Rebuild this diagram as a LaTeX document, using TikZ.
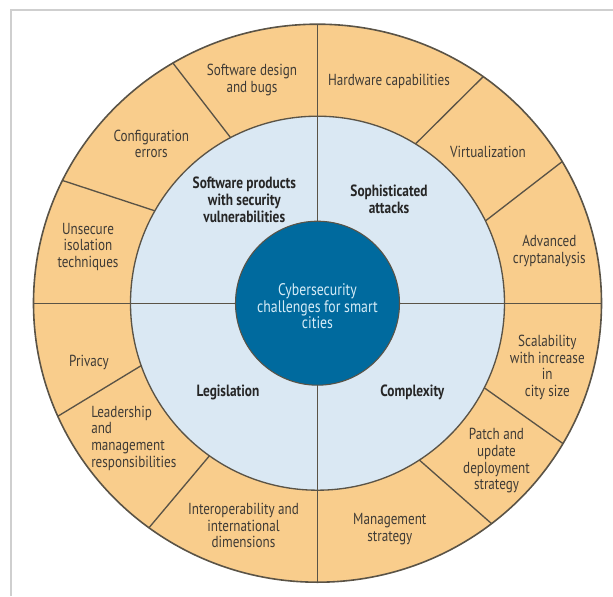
\documentclass[tikz,border=0pt]{standalone}
\usepackage{fontspec}
\setmainfont[FakeStretch=0.82]{PT Sans}
\usepackage{tikz}

\definecolor{ringcol}{HTML}{F9CD8C}
\definecolor{midcol}{HTML}{DAE8F3}
\definecolor{corecol}{HTML}{006A9E}
\definecolor{edgecol}{HTML}{5A5346}
\definecolor{txtcol}{HTML}{3F3B36}
\definecolor{coretxt}{HTML}{D6ECF7}
\definecolor{framecol}{HTML}{CFCFCF}

\begin{document}
\begin{tikzpicture}[x=0.75pt,y=0.75pt,
    lbl/.style={align=center,text=txtcol,inner sep=0pt,
      font=\fontsize{12}{12.5}\selectfont},
    midlbl/.style={lbl,text=black!85,font=\fontsize{12.2}{12.8}\selectfont\bfseries},
    sep/.style={draw=edgecol,line width=1pt}]

  % Frame
  \useasboundingbox (-317.5,-292.8) rectangle (295.5,303.2);
  \draw[framecol,line width=1.2pt] (-306.5,-292.8) |- (295.5,293.2);

  % Outer ring
  \coordinate (c) at (0,0);
  \filldraw[fill=ringcol,draw=edgecol,line width=1.2pt] (c) ellipse [x radius=284,y radius=279];
  \foreach \a/\b in {117.7/120.6,150.4/153.9,58.4/54.3,26.1/30.5,
                     199.5/203.9,234.7/233.6,303/307.8,333.1/329.8}
    \draw[sep] (\a:187) -- (\b:284 and 279);

  % Middle ring and quadrants
  \filldraw[fill=midcol,draw=edgecol,line width=1pt] (c) circle [radius=187];
  \draw[sep] (0,-279) -- (0,279);
  \draw[sep] (-284,0) -- (284,0);

  % Core
  \filldraw[fill=corecol,draw=edgecol,line width=0.8pt] (c) circle [radius=82];
  \node[lbl,text=coretxt,font=\fontsize{12.6}{12.6}\selectfont] (core) at (0,-3)
    {Cybersecurity\\challenges for smart\\cities};

  % Middle labels
  \node[midlbl] (swprod) at (-73.2,103.7) {Software products\\with security\\vulnerabilities};
  \node[midlbl] (attacks) at (71.5,103.9) {Sophisticated\\attacks};
  \node[midlbl] (legis) at (-89.5,-88.8) {Legislation};
  \node[midlbl] (complex) at (94.9,-88.8) {Complexity};

  % Outer labels
  \node[lbl] (swdesign) at (-65.5,223.2) {Software design\\and bugs};
  \node[lbl] (hardware) at (71.5,222.2) {Hardware capabilities};
  \node[lbl] (config) at (-166.2,159.2) {Configuration\\errors};
  \node[lbl] (virtual) at (170.5,151.5) {Virtualization};
  \node[lbl] (unsecure) at (-229.5,56.5) {Unsecure\\isolation\\techniques};
  \node[lbl] (crypto) at (231.8,52.5) {Advanced\\cryptanalysis};
  \node[lbl] (privacy) at (-228.5,-59.5) {Privacy};
  \node[lbl,align=left,anchor=west] (leader) at (-226.5,-134.8) {Leadership\\and\\management\\responsibilities};
  \node[lbl] (interop) at (-74,-222.4) {Interoperability and\\international\\dimensions};
  \node[lbl] (mgmt) at (72.3,-226.1) {Management\\strategy};
  \node[lbl] (patch) at (179,-157.8) {Patch and\\update\\deployment\\strategy};
  \node[lbl] (scale) at (229.8,-64.1) {Scalability\\with increase\\in\\city size};
\end{tikzpicture}
\end{document}
